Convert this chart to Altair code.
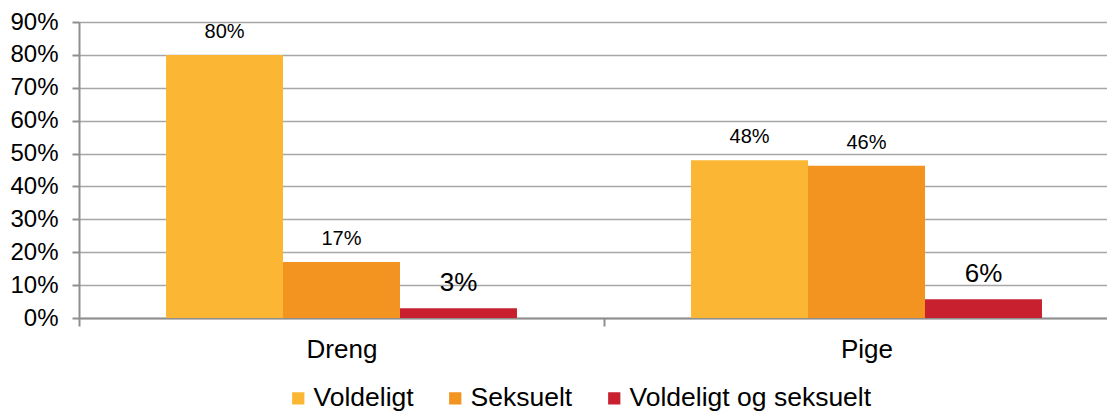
import altair as alt
import pandas as pd

groups = ["Dreng", "Pige"]
series = ["Voldeligt", "Seksuelt", "Voldeligt og seksuelt"]
dreng_values = [0.80, 0.17, 0.03]
pige_values = [0.48, 0.463, 0.057]
colors = ["#FBB734", "#F39320", "#C8202F"]
y_ticks = [0, 0.1, 0.2, 0.3, 0.4, 0.5, 0.6, 0.7, 0.8, 0.9]

rows = []
for g, vals in zip(groups, [dreng_values, pige_values]):
    for s, v in zip(series, vals):
        rows.append({"group": g, "series": s, "value": v})
df = pd.DataFrame(rows)

FONT = "Liberation Sans"
AXIS_GRAY = "#8F8F8F"

x_enc = alt.X(
    "group:N",
    sort=groups,
    scale=alt.Scale(range=[0, 1050], paddingInner=0, paddingOuter=0),
    axis=alt.Axis(
        title=None, labelAngle=0, labelFontSize=26, labelFont=FONT, labelColor="#000000",
        tickBand="extent", tickSize=8, tickColor=AXIS_GRAY, tickWidth=2,
        labelPadding=10, domainColor=AXIS_GRAY, domainWidth=2, grid=False,
    ),
)
xo_enc = alt.XOffset("series:N", sort=series,
                     scale=alt.Scale(paddingInner=0, paddingOuter=0.744))
y_enc = alt.Y(
    "value:Q",
    scale=alt.Scale(domain=[0, 0.9], nice=False),
    axis=alt.Axis(
        title=None, format=".0%", values=y_ticks, labelFontSize=24, labelFont=FONT,
        labelColor="#000000", labelPadding=14, tickSize=7, tickColor=AXIS_GRAY, tickWidth=2,
        domainColor=AXIS_GRAY, domainWidth=2, grid=True, gridColor="#A6A6A6", gridWidth=1.5,
    ),
)

bars = alt.Chart(df).mark_bar().encode(
    x=x_enc,
    xOffset=xo_enc,
    y=y_enc,
    color=alt.Color(
        "series:N", sort=series,
        scale=alt.Scale(domain=series, range=colors),
        legend=alt.Legend(
            orient="none", legendX=206, legendY=363, direction="horizontal", title=None,
            symbolType="square", symbolSize=150, symbolStrokeWidth=0,
            labelFontSize=26.5, labelFont=FONT, labelColor="#000000", labelLimit=0,
            labelOffset=2, columnPadding=28,
        ),
    ),
)

labels = alt.Chart(df).mark_text(baseline="alphabetic", dy=-17, font=FONT, color="#000000").encode(
    x=x_enc,
    xOffset=xo_enc,
    y=y_enc,
    text=alt.Text("value:Q", format=".0%"),
    size=alt.condition(alt.datum.series == "Voldeligt og seksuelt", alt.value(26), alt.value(20)),
)

chart = alt.layer(bars, labels).properties(
    width=1028,
    height=296,
    autosize=alt.AutoSizeParams(type="none"),
    padding={"left": 71, "top": 14, "right": 0, "bottom": 96},
    background="#FFFFFF",
).configure_view(stroke=None).configure(font=FONT)

chart.save("out.html", embed_options={"renderer": "svg", "actions": False})
